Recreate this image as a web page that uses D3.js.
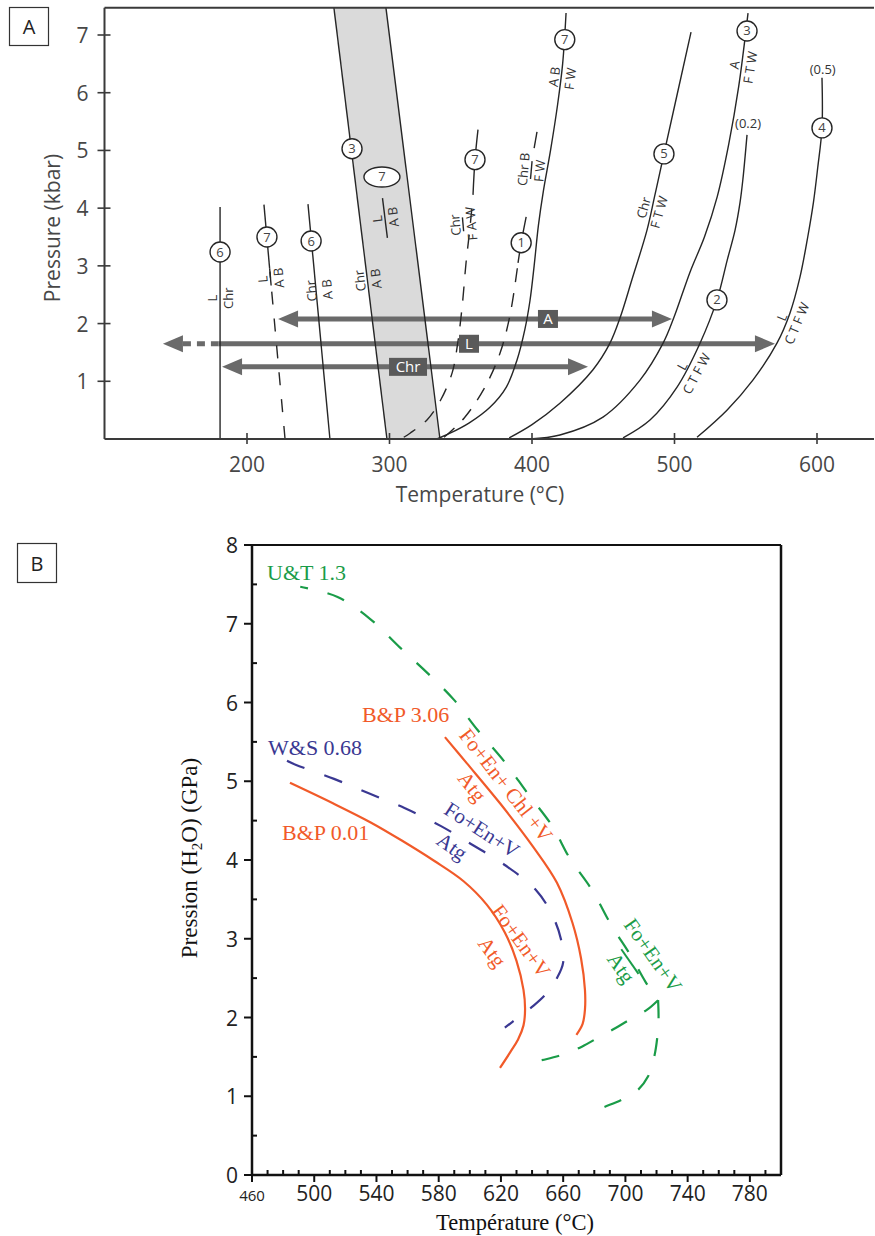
<!DOCTYPE html>
<html><head><meta charset="utf-8">
<script src="https://cdn.jsdelivr.net/npm/d3@7"></script>
<style>body{margin:0;background:#fff} svg{display:block}</style>
</head><body>
<svg id="c" width="875" height="1236"></svg>
<script>
// ================= PANEL A DATA (T °C, P kbar) =================
const aTempTicks = [200, 300, 400, 500, 600];
const aPresTicks = [1, 2, 3, 4, 5, 6, 7];
const aTempRange = [100, 640];
const aPresTop = 7.47;

const bandLeft  = [[261, 7.47], [298.2, 0]];
const bandRight = [[297.5, 7.47], [335.4, 0]];
const curve6a = [[181.1, 0], [181.1, 4.02]];
const curve7aSolid = [[215.9, 2.95], [211.9, 4.06]];
const curve7aDash  = [[226.7, 0], [215.9, 2.95]];
const curve6b = [[258.2, 0], [242.8, 4.07]];
const curve7bSolid = [[358.6, 4.23], [360, 4.84], [362.1, 5.36]];
const curve7bDash = [[310, 0.03], [314.4, 0.1], [326.3, 0.33], [336, 0.68], [344, 1.15], [347.5, 1.6], [351, 2.3], [353.7, 3.05], [356.2, 3.6], [357.8, 4.0]];
const curve1Dash = [[338.3, 0.03], [352.3, 0.36], [367, 0.9], [377.6, 1.49], [384.6, 2.15], [390.2, 3.05]];
const curve1Solid = [[390.2, 3.05], [392.4, 3.40], [395.9, 3.85]];
const curve1Top = [[401.5, 5.04], [403.5, 5.32]];
const curve7 = [[333.3, 0], [342.5, 0.1], [356, 0.28], [370.5, 0.55], [382, 0.9], [389.5, 1.37], [395, 1.9], [398.6, 2.4], [401.5, 3.0], [404.5, 3.7], [408, 4.3], [413, 5.0], [418, 5.8], [421.5, 6.5], [423.9, 7.38]];
const curve5 = [[384, 0.02], [400, 0.25], [419.6, 0.62], [442.8, 1.20], [454.7, 1.66], [461.8, 2.10], [470, 2.75], [480.7, 3.62], [486, 4.2], [492.6, 4.94], [511.6, 7.05]];
const curve3 = [[398.6, 0], [419.6, 0.07], [449.8, 0.38], [475.8, 1.02], [492, 1.66], [499.5, 2.1], [511, 2.9], [521, 3.5], [530, 4.2], [538, 5.1], [545, 6.1], [551.6, 7.38]];
const curve2 = [[463.9, 0.02], [482.8, 0.33], [501.8, 0.90], [517.9, 1.66], [529.8, 2.41], [537, 3.1], [542.5, 3.62], [546, 4.1], [548, 4.5], [550.9, 5.27]];
const curve4 = [[515.8, 0.03], [536.8, 0.50], [555, 1.02], [571.9, 1.66], [581, 2.18], [588, 2.8], [593.5, 3.5], [597.5, 4.1], [600.5, 4.7], [603.5, 5.39], [603.5, 6.26]];

const aCircles = [
  {n: "6", T: 181.1, P: 3.24}, {n: "7", T: 214, P: 3.50}, {n: "6", T: 245, P: 3.43},
  {n: "3", T: 273.7, P: 5.03}, {n: "7", T: 360, P: 4.84}, {n: "1", T: 392.4, P: 3.40},
  {n: "7", T: 423, P: 6.92}, {n: "5", T: 492.6, P: 4.94}, {n: "3", T: 550.9, P: 7.07},
  {n: "2", T: 529.8, P: 2.41}, {n: "4", T: 603.5, P: 5.39}
];
const aEllipse = {n: "7", T: 294.7, P: 4.54};
const aNotes = [{t: "(0.2)", T: 551.6, P: 5.46}, {t: "(0.5)", T: 604, P: 6.41}];

const aFrac = [
  {num: "L", den: "Chr", T: 181.1, P: 2.44, rot: -90, bar: 0},
  {num: "L", den: "A B", T: 216.5, P: 2.78, rot: -95, bar: 14},
  {num: "Chr", den: "A B", T: 250.5, P: 2.58, rot: -95, bar: 0},
  {num: "Chr", den: "A B", T: 284.7, P: 2.76, rot: -97, bar: 0},
  {num: "L", den: "A B", T: 296.8, P: 3.83, rot: -97, bar: 40},
  {num: "Chr", den: "F A W", T: 351.6, P: 3.72, rot: -95, bar: 14},
  {num: "Chr B", den: "F W", T: 399.5, P: 4.66, rot: -85, bar: 18},
  {num: "A B", den: "F W", T: 421.1, P: 6.26, rot: -83, bar: 0},
  {num: "Chr", den: "F T W", T: 483.5, P: 3.97, rot: -74, bar: 0},
  {num: "A", den: "F T W", T: 547.4, P: 6.46, rot: -81, bar: 0},
  {num: "L", den: "C T F W", T: 510.2, P: 1.20, rot: -62, bar: 0},
  {num: "L", den: "C T F W", T: 580.4, P: 2.06, rot: -67, bar: 0}
];

const arrowsA = [
  {label: "A",   from: 221.8, to: 498.2, P: 2.08, labelT: 411.2, dotTo: null},
  {label: "L",   from: 141,   to: 570.5, P: 1.65, labelT: 355.8, dotTo: 180},
  {label: "Chr", from: 182.5, to: 439.3, P: 1.25, labelT: 313,   dotTo: null}
];

// ================= PANEL B DATA (T °C, P GPa) =================
const bTempMajor = [460, 500, 540, 580, 620, 660, 700, 740, 780];
const bTempRange = [460, 800];
const bPresMajor = [0, 1, 2, 3, 4, 5, 6, 7, 8];

const utMain = [[491, 7.47], [515, 7.34], [536, 7.06], [555, 6.70], [573, 6.37], [590, 6.03], [605, 5.65], [623, 5.23], [637, 4.85], [653, 4.43], [664, 4.03], [678.5, 3.62], [691, 3.17], [703, 2.8], [713, 2.45], [721, 2.22]];
const utBranch1 = [[721, 2.22], [714, 2.1], [705, 2.0], [694, 1.87], [683, 1.75], [672, 1.63], [660, 1.53], [649, 1.47], [644, 1.45]];
const utBranch2 = [[721, 2.22], [721.3, 1.98], [720.5, 1.75], [718.5, 1.5], [714.5, 1.25], [708, 1.08], [697, 0.95], [686, 0.86], [680.5, 0.81]];
const ws068 = [[482.5, 5.26], [488, 5.21], [512.7, 5.03], [535.8, 4.84], [558, 4.66], [581.5, 4.43], [601, 4.2], [623, 3.93], [642.5, 3.62], [653, 3.3], [658.5, 3.0], [660, 2.7], [656, 2.5], [649, 2.3], [641, 2.15], [631, 2.0], [622.5, 1.87]];
const bp001 = [[484.4, 4.98], [512, 4.72], [536, 4.48], [556, 4.25], [577, 3.99], [596, 3.73], [611, 3.43], [622.5, 3.08], [630, 2.72], [634.5, 2.35], [635.5, 2.1], [634.5, 1.9], [631, 1.72], [626, 1.56], [619.4, 1.36]];
const bp306 = [[584, 5.56], [598, 5.23], [619.4, 4.72], [640.6, 4.17], [656, 3.71], [666, 3.2], [671.5, 2.75], [674, 2.35], [674, 2.1], [672.5, 1.92], [668.5, 1.78]];

const bNames = [
  {t: "U&T 1.3", s: "ut", x: 267, y: 580},
  {t: "B&P 3.06", s: "bp", x: 362, y: 722},
  {t: "W&S 0.68", s: "ws", x: 268, y: 755},
  {t: "B&P 0.01", s: "bp", x: 282, y: 840}
];
const bRot = [
  {t: "Fo+En+ Chl +V", s: "bp", T: 623.2, P: 4.95, rot: 52},
  {t: "Atg", s: "bp", T: 601.4, P: 4.93, rot: 52},
  {t: "Fo+En+V", s: "ws", T: 607.8, P: 4.38, rot: 33},
  {t: "Atg", s: "ws", T: 588.5, P: 4.17, rot: 35},
  {t: "Fo+En+V", s: "bp", T: 632.9, P: 2.97, rot: 54},
  {t: "Atg", s: "bp", T: 614.2, P: 2.83, rot: 54},
  {t: "Fo+En+V", s: "ut", T: 717.7, P: 2.79, rot: 55},
  {t: "Atg", s: "ut", T: 697.1, P: 2.63, rot: 55, bar: true}
];

// ================= DRAW =================
const svg = d3.select('#c');
const col = {bp: '#f15a29', ut: '#1a9c48', ws: '#3a3892'};
const sans = "'Open Sans', 'DejaVu Sans', sans-serif";
const serif = "'Liberation Serif', 'Times New Roman', serif";
const gray = '#474747';

// ---------- Panel A ----------
const xA = d3.scaleLinear().domain([200, 600]).range([247, 817]);
const yA = d3.scaleLinear().domain([0, 7]).range([439, 35]);
const gA = svg.append('g');
const lineA = d3.line().x(d => xA(d[0])).y(d => yA(d[1])).curve(d3.curveCatmullRom.alpha(0.5));
const lineA0 = d3.line().x(d => xA(d[0])).y(d => yA(d[1]));

const bandPoly = bandLeft.concat(bandRight.slice().reverse());
gA.append('path').attr('d', lineA0(bandPoly) + 'Z').attr('fill', '#dadada');

const arrCol = '#6a6a6a';
arrowsA.forEach(a => {
  const y = yA(a.P), x1 = xA(a.from), x2 = xA(a.to), hl = 20, hw = 8.5;
  const shaftStart = a.dotTo ? xA(a.dotTo) : x1 + hl - 2;
  gA.append('line').attr('x1', shaftStart).attr('x2', x2 - hl + 2).attr('y1', y).attr('y2', y)
    .attr('stroke', arrCol).attr('stroke-width', 5);
  if (a.dotTo) {
    gA.append('line').attr('x1', x1 + hl).attr('x2', xA(a.dotTo)).attr('y1', y).attr('y2', y)
      .attr('stroke', arrCol).attr('stroke-width', 5).attr('stroke-dasharray', '8,6');
  }
  gA.append('path').attr('d', `M${x1},${y}L${x1 + hl},${y - hw}L${x1 + hl},${y + hw}Z`).attr('fill', arrCol);
  gA.append('path').attr('d', `M${x2},${y}L${x2 - hl},${y - hw}L${x2 - hl},${y + hw}Z`).attr('fill', arrCol);
  const w = a.label.length > 1 ? 38 : 20;
  gA.append('rect').attr('x', xA(a.labelT) - w / 2).attr('y', y - 9).attr('width', w).attr('height', 18).attr('fill', '#5a5a5a');
  gA.append('text').attr('x', xA(a.labelT)).attr('y', y + 5.5).attr('text-anchor', 'middle')
    .attr('font-family', sans).attr('font-size', 15).attr('fill', '#fff').text(a.label);
});

const curveStroke = '#262626';
function cpath(data, dash, gen) {
  const p = gA.append('path').attr('d', (gen || lineA)(data)).attr('fill', 'none')
    .attr('stroke', curveStroke).attr('stroke-width', 1.4);
  if (dash) p.attr('stroke-dasharray', dash);
  return p;
}
cpath(bandLeft, null, lineA0);
cpath(bandRight, null, lineA0);
cpath(curve6a, null, lineA0);
cpath(curve7aSolid, null, lineA0);
cpath(curve7aDash, '13,14', lineA0);
cpath(curve6b, null, lineA0);
cpath(curve7bSolid);
cpath(curve7bDash, '14,12');
cpath(curve1Dash, '14,11');
cpath(curve1Solid);
cpath(curve1Top, null, lineA0);
cpath(curve7);
cpath(curve5);
cpath(curve3);
cpath(curve2);
cpath(curve4);

aFrac.forEach(f => {
  const g = gA.append('g').attr('transform', `translate(${xA(f.T)},${yA(f.P)}) rotate(${f.rot})`);
  g.append('text').attr('x', 0).attr('y', -3).attr('text-anchor', 'middle')
    .attr('font-family', sans).attr('font-size', 13).attr('fill', '#333').text(f.num);
  g.append('text').attr('x', 0).attr('y', 13).attr('text-anchor', 'middle')
    .attr('font-family', sans).attr('font-size', 13).attr('fill', '#333').text(f.den);
  if (f.bar) g.append('line').attr('x1', -f.bar / 2).attr('x2', f.bar / 2).attr('y1', 0).attr('y2', 0)
    .attr('stroke', curveStroke).attr('stroke-width', 1.4);
});

aCircles.forEach(c => {
  gA.append('circle').attr('cx', xA(c.T)).attr('cy', yA(c.P)).attr('r', 10)
    .attr('fill', '#fff').attr('stroke', curveStroke).attr('stroke-width', 1.4);
  gA.append('text').attr('x', xA(c.T)).attr('y', yA(c.P) + 4.5).attr('text-anchor', 'middle')
    .attr('font-family', sans).attr('font-size', 13).attr('fill', '#444').text(c.n);
});
gA.append('ellipse').attr('cx', xA(aEllipse.T)).attr('cy', yA(aEllipse.P)).attr('rx', 18).attr('ry', 10)
  .attr('fill', '#fff').attr('stroke', curveStroke).attr('stroke-width', 1.4);
gA.append('text').attr('x', xA(aEllipse.T)).attr('y', yA(aEllipse.P) + 4.5).attr('text-anchor', 'middle')
  .attr('font-family', sans).attr('font-size', 13).attr('fill', '#444').text(aEllipse.n);
aNotes.forEach(n => {
  gA.append('text').attr('x', xA(n.T)).attr('y', yA(n.P) + 4.5).attr('text-anchor', 'middle')
    .attr('font-family', sans).attr('font-size', 13).attr('fill', '#333').text(n.t);
});

const axC = '#3a3a3a';
gA.append('line').attr('x1', xA(aTempRange[0])).attr('x2', xA(aTempRange[1])).attr('y1', yA(aPresTop)).attr('y2', yA(aPresTop)).attr('stroke', axC).attr('stroke-width', 2);
gA.append('line').attr('x1', xA(aTempRange[0])).attr('x2', xA(aTempRange[1])).attr('y1', yA(0)).attr('y2', yA(0)).attr('stroke', axC).attr('stroke-width', 2);
gA.append('line').attr('x1', xA(aTempRange[0])).attr('x2', xA(aTempRange[0])).attr('y1', yA(aPresTop)).attr('y2', yA(0)).attr('stroke', axC).attr('stroke-width', 2);
aPresTicks.forEach(p => {
  gA.append('line').attr('x1', xA(aTempRange[0]) - 7).attr('x2', xA(aTempRange[0]) + 6).attr('y1', yA(p)).attr('y2', yA(p)).attr('stroke', axC).attr('stroke-width', 1.6);
  gA.append('text').attr('x', xA(aTempRange[0]) - 16).attr('y', yA(p) + 8).attr('text-anchor', 'end')
    .attr('font-family', sans).attr('font-size', 21).attr('fill', gray).text(p);
});
aTempTicks.forEach(t => {
  gA.append('line').attr('x1', xA(t)).attr('x2', xA(t)).attr('y1', yA(0) - 6).attr('y2', yA(0) + 5).attr('stroke', axC).attr('stroke-width', 1.6);
  gA.append('text').attr('x', xA(t)).attr('y', yA(0) + 33).attr('text-anchor', 'middle')
    .attr('font-family', sans).attr('font-size', 21).attr('fill', gray).text(t);
});
gA.append('text').attr('x', 480).attr('y', 502).attr('text-anchor', 'middle')
  .attr('font-family', sans).attr('font-size', 21).attr('fill', gray).text('Temperature (°C)');
gA.append('text').attr('transform', 'translate(60,228) rotate(-90)').attr('text-anchor', 'middle')
  .attr('font-family', sans).attr('font-size', 21).attr('fill', gray).text('Pressure (kbar)');
gA.append('rect').attr('x', 9.5).attr('y', 7.5).attr('width', 39).attr('height', 38).attr('fill', '#fff').attr('stroke', '#333').attr('stroke-width', 1.2);
gA.append('text').attr('x', 29).attr('y', 34).attr('text-anchor', 'middle').attr('font-family', sans).attr('font-size', 20).attr('fill', '#222').text('A');

// ---------- Panel B ----------
const xB = d3.scaleLinear().domain(bTempRange).range([252, 781]);
const yB = d3.scaleLinear().domain([0, 8]).range([1175, 545]);
const gB = svg.append('g');
const lineB = d3.line().x(d => xB(d[0])).y(d => yB(d[1])).curve(d3.curveCatmullRom.alpha(0.5));

function bpath(data, s, w, dash, off) {
  const p = gB.append('path').attr('d', lineB(data)).attr('fill', 'none').attr('stroke', col[s]).attr('stroke-width', w);
  if (dash) p.attr('stroke-dasharray', dash).attr('stroke-dashoffset', off || 0);
  return p;
}
bpath(utMain, 'ut', 2.2, '18,20', 10);
bpath(utBranch1, 'ut', 2.2, '18,20', 0);
bpath(utBranch2, 'ut', 2.2, '18,20', 0);
bpath(ws068, 'ws', 2.2, '19,21', 0);
bpath(bp001, 'bp', 2.2);
bpath(bp306, 'bp', 2.2);

bNames.forEach(n => {
  gB.append('text').attr('x', n.x).attr('y', n.y).attr('font-family', serif).attr('font-size', 22)
    .attr('fill', col[n.s]).text(n.t);
});
bRot.forEach(r => {
  const g = gB.append('g').attr('transform', `translate(${xB(r.T)},${yB(r.P)}) rotate(${r.rot})`);
  g.append('text').attr('x', 0).attr('y', 0).attr('dy', '0.33em').attr('text-anchor', 'middle')
    .attr('font-family', serif).attr('font-size', 21).attr('fill', col[r.s]).text(r.t);
  if (r.bar) g.append('line').attr('x1', -15).attr('x2', 15).attr('y1', -11).attr('y2', -11)
    .attr('stroke', col[r.s]).attr('stroke-width', 2);
});

const bx0 = xB(bTempRange[0]), bx1 = xB(bTempRange[1]), by0 = yB(0), by1 = yB(8);
gB.append('line').attr('x1', bx0).attr('x2', bx1).attr('y1', by1).attr('y2', by1).attr('stroke', '#111').attr('stroke-width', 2);
gB.append('line').attr('x1', bx1).attr('x2', bx1).attr('y1', by1).attr('y2', by0).attr('stroke', '#111').attr('stroke-width', 2.5);
gB.append('line').attr('x1', bx0).attr('x2', bx1).attr('y1', by0).attr('y2', by0).attr('stroke', '#111').attr('stroke-width', 2.5);
gB.append('line').attr('x1', bx0).attr('x2', bx0).attr('y1', by1).attr('y2', by0).attr('stroke', '#111').attr('stroke-width', 2.5);
bPresMajor.forEach(p => {
  gB.append('line').attr('x1', bx0 - 8).attr('x2', bx0).attr('y1', yB(p)).attr('y2', yB(p)).attr('stroke', '#111').attr('stroke-width', 2);
  gB.append('text').attr('x', bx0 - 14).attr('y', yB(p) + 8).attr('text-anchor', 'end')
    .attr('font-family', sans).attr('font-size', 21).attr('fill', '#222').text(p);
  if (p < 8) gB.append('line').attr('x1', bx0).attr('x2', bx0 + 5).attr('y1', yB(p + 0.5)).attr('y2', yB(p + 0.5)).attr('stroke', '#111').attr('stroke-width', 2);
});
d3.range(460, 800, 10).forEach(t => {
  const major = bTempMajor.includes(t);
  gB.append('line').attr('x1', xB(t)).attr('x2', xB(t))
    .attr('y1', major ? by0 : by0 - 5).attr('y2', major ? by0 + 7 : by0)
    .attr('stroke', '#111').attr('stroke-width', 2);
});
bTempMajor.forEach(t => {
  gB.append('text').attr('x', xB(t)).attr('y', 1201).attr('text-anchor', 'middle')
    .attr('font-family', sans).attr('font-size', t === 460 ? 15 : 21).attr('fill', '#222').text(t);
});
gB.append('text').attr('x', 515).attr('y', 1230).attr('text-anchor', 'middle')
  .attr('font-family', serif).attr('font-size', 22.5).attr('fill', '#111').text('Température (°C)');
const yl = gB.append('text').attr('transform', 'translate(197,858) rotate(-90)').attr('text-anchor', 'middle')
  .attr('font-family', serif).attr('font-size', 23).attr('fill', '#111');
yl.append('tspan').text('Pression (H');
yl.append('tspan').attr('font-size', 15).attr('dy', 5).text('2');
yl.append('tspan').attr('dy', -5).text('O) (GPa)');
gB.append('rect').attr('x', 17.5).attr('y', 543.5).attr('width', 39).attr('height', 39).attr('fill', '#fff').attr('stroke', '#333').attr('stroke-width', 1.2);
gB.append('text').attr('x', 37).attr('y', 571).attr('text-anchor', 'middle').attr('font-family', sans).attr('font-size', 20).attr('fill', '#222').text('B');
</script>
</body></html>
